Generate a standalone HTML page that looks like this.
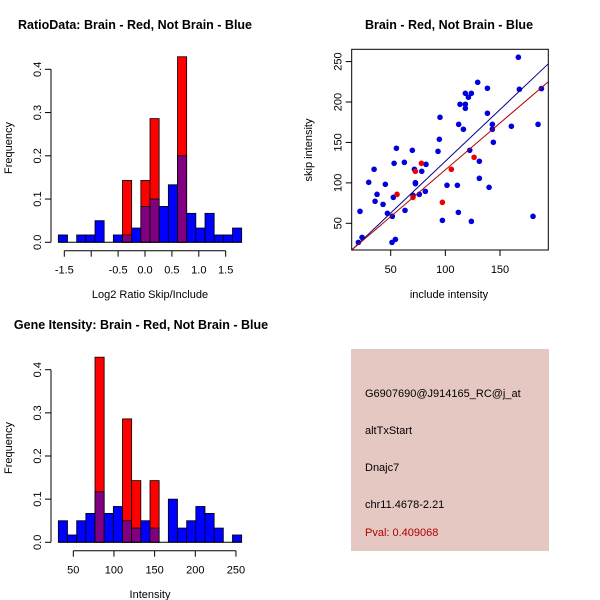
<!DOCTYPE html>
<html><head><meta charset="utf-8"><style>
body{margin:0;background:#fff}
svg{display:block;font-family:"Liberation Sans",Arial,sans-serif}
</style></head><body>
<svg id="chart" width="600" height="600" viewBox="0 0 600 600" xmlns="http://www.w3.org/2000/svg">
<rect width="600" height="600" fill="#fff"/>
<g id="p1"></g>
<g id="p2"></g>
<g id="p3"></g>
<g>
<rect x="351" y="349" width="198" height="202" fill="#e6c8c2"/>
<text x="365" y="397" font-size="11" fill="#000">G6907690@J914165_RC@j_at</text>
<text x="365" y="434" font-size="11" fill="#000">altTxStart</text>
<text x="365" y="471" font-size="11" fill="#000">Dnajc7</text>
<text x="365" y="508" font-size="11" fill="#000">chr11.4678-2.21</text>
<text x="365" y="536" font-size="11" fill="#b00000">Pval: 0.409068</text>
</g>
</svg>
<script>
// Ratio histogram data
const ratioBinStart = -1.611;
const ratioBinWidth = 0.1704;
const ratioBlue = [0.017,0,0.017,0.017,0.05,0,0.017,0.017,0.033,0.083,0.1,0.083,0.133,0.2,0.067,0.033,0.067,0.017,0.017,0.033];
const ratioRed  = [0,0,0,0,0,0,0,0.143,0,0.143,0.286,0,0,0.429,0,0,0,0,0,0];
const ratioXTicks = [-1.5,-1.0,-0.5,0.0,0.5,1.0,1.5];
const ratioXLabels = ["-1.5","","-0.5","0.0","0.5","1.0","1.5"];
const freqTicks = [0,0.1,0.2,0.3,0.4];
const freqLabels = ["0.0","0.1","0.2","0.3","0.4"];
// Intensity histogram data
const intBinStart = 31.6;
const intBinWidth = 11.27;
const intBlue = [0.05,0.017,0.05,0.067,0.117,0.067,0.083,0.05,0.033,0.05,0.033,0,0.1,0.033,0.05,0.083,0.067,0.033,0,0.017];
const intRed  = [0,0,0,0,0.429,0,0,0.286,0.143,0,0.143,0,0,0,0,0,0,0,0,0];
const intXTicks = [50,100,150,200,250];
const intXLabels = ["50","100","150","200","250"];
// Scatter data
const blueX = [166.8,167.7,187.9,129.6,138.5,118.3,123.8,121.1,113.4,118.3,118.3,138.5,95.1,112.2,116.5,143.0,143.0,160.4,184.8,94.5,93.3,143.9,55.2,53.1,62.5,69.8,71.7,72.6,72.6,82.3,78.4,34.8,29.9,45.1,37.5,35.7,43.0,52.4,47.0,21.9,51.5,63.1,70.4,76.2,81.7,101.5,111.0,122.3,131.1,131.1,140.0,97.3,111.9,123.8,180.2,23.8,20.4,51.2,54.3];
const blueY = [255.4,215.8,216.6,224.4,217.0,210.8,210.8,205.9,197.2,197.2,192.2,186.1,181.1,172.4,166.3,172.4,166.3,170.0,172.4,153.9,139.0,150.2,142.8,124.2,125.4,140.3,116.8,100.3,99.0,122.9,114.3,116.8,100.7,98.2,85.8,77.2,73.4,82.1,62.3,64.8,58.6,66.0,84.6,85.8,89.5,97.0,97.0,140.3,126.7,105.6,94.5,53.6,63.5,52.4,58.6,32.6,26.4,26.4,30.1];
const redX = [55.8,70.4,72.6,78.1,97.3,105.5,126.3];
const redY = [85.8,82.1,114.3,124.2,75.9,116.8,131.6];
const blueFit = [-1.3,1.28];   // intercept, slope
const redFit = [0.45,1.157];
const scXTicks = [50,100,150];
const scYTicks = [50,100,150,200,250];

const NS = "http://www.w3.org/2000/svg";
function mk(parent, tag, attrs){const e=document.createElementNS(NS,tag);for(const k in attrs)e.setAttribute(k,attrs[k]);parent.appendChild(e);return e;}

function hist(g, cfg){
  const xs = v => cfg.x0px + (v - cfg.x0v) * cfg.xk;
  const ys = v => cfg.y0px - v * cfg.yk;
  for(let i=0;i<cfg.blue.length;i++){
    const l = xs(cfg.binStart + i*cfg.binWidth), r = xs(cfg.binStart + (i+1)*cfg.binWidth);
    const b = cfg.blue[i], rd = cfg.red[i];
    if(rd>0){
      const e = mk(g,'rect',{x:l,y:ys(rd),width:r-l,height:ys(0)-ys(rd),fill:'#ff0000',stroke:'#000','stroke-width':0.8});
      
      
    }
    if(b>0){
      const fill = rd>0 ? '#800080' : '#0000ff';
      const e = mk(g,'rect',{x:l,y:ys(b),width:r-l,height:ys(0)-ys(b),fill:fill,stroke:'#000','stroke-width':0.8});
      
      
    }
  }
  // y axis
  mk(g,'line',{x1:cfg.yaxX,x2:cfg.yaxX,y1:ys(0),y2:ys(0.4),stroke:'#000'});
  cfg.yTicks.forEach((t,i)=>{
    mk(g,'line',{x1:cfg.yaxX-6,x2:cfg.yaxX,y1:ys(t),y2:ys(t),stroke:'#000'});
    const tx = mk(g,'text',{x:0,y:0,'font-size':11,'text-anchor':'middle',transform:`translate(${cfg.yaxX-10},${ys(t)}) rotate(-90)`});
    tx.textContent = cfg.yLabels[i];
    
    
  });
  // baseline
  mk(g,'line',{x1:xs(cfg.binStart),x2:xs(cfg.binStart+cfg.blue.length*cfg.binWidth),y1:ys(0),y2:ys(0),stroke:'#000'});
  // x axis
  const ay = cfg.xaxY;
  mk(g,'line',{x1:xs(cfg.xTicks[0]),x2:xs(cfg.xTicks[cfg.xTicks.length-1]),y1:ay,y2:ay,stroke:'#000'});
  cfg.xTicks.forEach((t,i)=>{
    mk(g,'line',{x1:xs(t),x2:xs(t),y1:ay,y2:ay+6,stroke:'#000'});
    if(cfg.xLabels[i]){
      const tx = mk(g,'text',{x:xs(t),y:ay+23,'font-size':11,'text-anchor':'middle'});
      tx.textContent = cfg.xLabels[i];
      
      
    }
  });
}

const p1 = document.getElementById('p1');
hist(p1,{x0px:64.3,x0v:-1.5,xk:53.8,y0px:242.3,yk:432.5,binStart:ratioBinStart,binWidth:ratioBinWidth,blue:ratioBlue,red:ratioRed,yaxX:51,xaxY:250.7,xTicks:ratioXTicks,xLabels:ratioXLabels,yTicks:freqTicks,yLabels:freqLabels});
const p3 = document.getElementById('p3');
hist(p3,{x0px:73.3,x0v:50,xk:0.8133,y0px:542.3,yk:431.5,binStart:intBinStart,binWidth:intBinWidth,blue:intBlue,red:intRed,yaxX:51,xaxY:550.7,xTicks:intXTicks,xLabels:intXLabels,yTicks:freqTicks,yLabels:freqLabels});

function label(g,x,y,txt,name,opts){
  const a = Object.assign({x:x,y:y,'font-size':11,'text-anchor':'middle'},opts||{});
  const t = mk(g,'text',a); t.textContent = txt;
  
  
  return t;
}
label(p1,135,29,'RatioData: Brain - Red, Not Brain - Blue','ratio-title',{'font-size':12.5,'font-weight':'bold'});
label(p1,150,298,'Log2 Ratio Skip/Include','ratio-x-title');
label(p1,0,0,'Frequency','ratio-y-title',{transform:'translate(12,148) rotate(-90)'});
label(p3,141,329,'Gene Itensity: Brain - Red, Not Brain - Blue','intensity-title',{'font-size':12.5,'font-weight':'bold'});
label(p3,150,598,'Intensity','intensity-x-title');
label(p3,0,0,'Frequency','intensity-y-title',{transform:'translate(12,448) rotate(-90)'});

// scatter
const p2 = document.getElementById('p2');
const sx = v => 390.7 + (v-50)*1.093;
const sy = v => 223.3 - (v-50)*0.8085;
const box = {l:351.7,r:548.3,t:49.3,b:250};
const clipId='scclip';
const defs = mk(p2,'defs',{});
const cp = mk(defs,'clipPath',{id:clipId});
mk(cp,'rect',{x:box.l,y:box.t,width:box.r-box.l,height:box.b-box.t});
const xmin = 50+(box.l-390.7)/1.093, xmax = 50+(box.r-390.7)/1.093;
const cg = mk(p2,'g',{'clip-path':`url(#${clipId})`});
blueX.forEach((x,i)=>{
  const c = mk(cg,'circle',{cx:sx(x),cy:sy(blueY[i]),r:2.8,fill:'#0000dd'});
  
  
});
redX.forEach((x,i)=>{
  const c = mk(cg,'circle',{cx:sx(x),cy:sy(redY[i]),r:2.8,fill:'#ee0000'});
  
  
});
const bl = mk(cg,'line',{x1:sx(xmin),y1:sy(blueFit[0]+blueFit[1]*xmin),x2:sx(xmax),y2:sy(blueFit[0]+blueFit[1]*xmax),stroke:'#00008b','stroke-width':1});


const rl = mk(cg,'line',{x1:sx(xmin),y1:sy(redFit[0]+redFit[1]*xmin),x2:sx(xmax),y2:sy(redFit[0]+redFit[1]*xmax),stroke:'#b00000','stroke-width':1});


const br = mk(p2,'rect',{x:box.l,y:box.t,width:box.r-box.l,height:box.b-box.t,fill:'none',stroke:'#000'});


scXTicks.forEach(t=>{
  mk(p2,'line',{x1:sx(t),x2:sx(t),y1:box.b,y2:box.b+6,stroke:'#000'});
  label(p2,sx(t),box.b+23,String(t),'x-tick-label');
});
scYTicks.forEach(t=>{
  mk(p2,'line',{x1:box.l-6,x2:box.l,y1:sy(t),y2:sy(t),stroke:'#000'});
  label(p2,0,0,String(t),'y-tick-label',{transform:`translate(${box.l-10},${sy(t)}) rotate(-90)`});
});
label(p2,449,29,'Brain - Red, Not Brain - Blue','scatter-title',{'font-size':12.5,'font-weight':'bold'});
label(p2,449,298,'include intensity','scatter-x-title');
label(p2,0,0,'skip intensity','scatter-y-title',{transform:'translate(312,150) rotate(-90)'});
</script>
</body></html>
